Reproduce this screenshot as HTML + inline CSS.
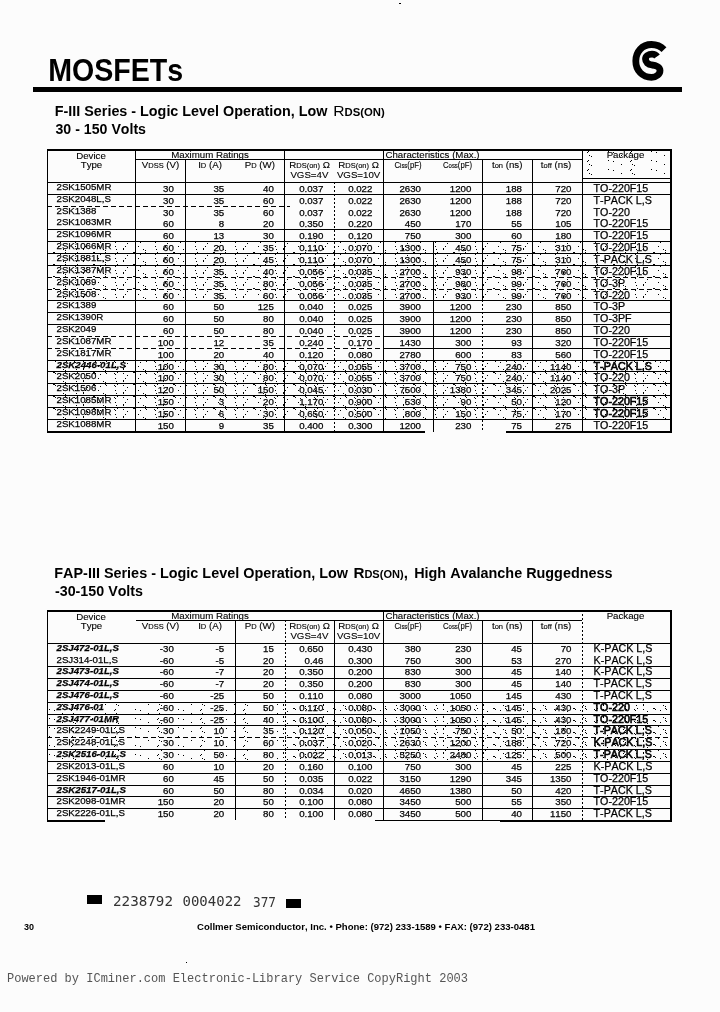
<!DOCTYPE html>
<html><head><meta charset="utf-8"><title>MOSFETs</title>
<style>
html,body{margin:0;padding:0;background:#fcfcfc;}
body{width:720px;height:1012px;overflow:hidden;}
svg{display:block;}
text{font-kerning:none;}
.tb text{stroke:#000;stroke-width:0.25px;}
.th text{stroke:#000;stroke-width:0.12px;}
</style></head>
<body>
<svg width="720" height="1012" viewBox="0 0 720 1012" font-family="'Liberation Sans', Arial, Helvetica, sans-serif" font-size="9.7" fill="#000">
<defs><pattern id="dots" x="0" y="0" width="40" height="12" patternUnits="userSpaceOnUse" fill="#000"><rect x="3" y="1" width="1" height="1"/><rect x="3" y="8" width="1" height="1"/><rect x="3" y="9" width="1" height="1"/><rect x="5" y="6" width="1" height="1"/><rect x="7" y="3" width="1" height="1"/><rect x="13" y="0" width="1" height="1"/><rect x="14" y="0" width="1" height="1"/><rect x="15" y="1" width="1" height="1"/><rect x="18" y="6" width="1" height="1"/><rect x="20" y="2" width="1" height="1"/><rect x="23" y="9" width="1" height="1"/><rect x="25" y="0" width="1" height="1"/><rect x="25" y="10" width="1" height="1"/><rect x="26" y="1" width="1" height="1"/><rect x="34" y="1" width="1" height="1"/><rect x="35" y="2" width="1" height="1"/><rect x="35" y="6" width="1" height="1"/><rect x="36" y="9" width="1" height="1"/><rect x="37" y="0" width="1" height="1"/></pattern><pattern id="dots2" x="0" y="0" width="43" height="9" patternUnits="userSpaceOnUse" fill="#000"><rect x="6" y="7" width="1" height="1"/><rect x="11" y="8" width="1" height="1"/><rect x="19" y="2" width="1" height="1"/><rect x="28" y="8" width="1" height="1"/><rect x="29" y="7" width="1" height="1"/><rect x="30" y="2" width="1" height="1"/><rect x="32" y="3" width="1" height="1"/></pattern></defs>
<text x="48.20" y="81.00" font-size="30.5" font-weight="bold" textLength="135" lengthAdjust="spacingAndGlyphs">MOSFETs</text>
<rect x="33" y="87" width="649" height="5" fill="#000" />
<path d="M664 49.6 C660 45.5 656 44.5 651.5 44.5 C642 44.5 635.8 52 635.8 61 C635.8 70.5 642.5 77.4 651.5 77.4 C656.5 77.4 660 74 660 70.5 C660 67 656 65.3 652 65 C648 64.5 645.5 62 645.5 59 C645.5 56 648.5 54.2 652 54.2 C654 54.2 656 55 657 56.5" fill="none" stroke="#000" stroke-width="6.8"/>
<text x="54.8" y="115.5" font-size="14" font-weight="bold" textLength="272.6" lengthAdjust="spacingAndGlyphs">F-III Series - Logic Level Operation, Low</text>
<text x="333.2" y="115.5" font-size="14.5" textLength="51.5" lengthAdjust="spacingAndGlyphs">R<tspan font-size="10.5" font-weight="bold">DS(ON)</tspan></text>
<text x="55.50" y="134.30" font-size="14" font-weight="bold" textLength="90.5" lengthAdjust="spacingAndGlyphs">30 - 150 Volts</text>
<rect x="48" y="242" width="622" height="11" fill="url(#dots)"/>
<rect x="48" y="254" width="622" height="11" fill="url(#dots)"/>
<rect x="48" y="266" width="622" height="11" fill="url(#dots)"/>
<rect x="48" y="278" width="622" height="11" fill="url(#dots)"/>
<rect x="48" y="290" width="622" height="10" fill="url(#dots)"/>
<rect x="48" y="361" width="622" height="10" fill="url(#dots)"/>
<rect x="48" y="372" width="622" height="11" fill="url(#dots)"/>
<rect x="48" y="384" width="622" height="11" fill="url(#dots)"/>
<rect x="48" y="396" width="622" height="11" fill="url(#dots)"/>
<rect x="48" y="408" width="622" height="11" fill="url(#dots)"/>
<rect x="47" y="149" width="625" height="2" fill="#000" />
<rect x="47" y="149" width="1" height="283" fill="#000" />
<rect x="670" y="149" width="2" height="284" fill="#000" />
<rect x="47" y="431" width="378" height="2" fill="#000" />
<rect x="506" y="431" width="166" height="2" fill="#000" />
<rect x="135" y="159" width="447" height="1" fill="#000" />
<rect x="47" y="182" width="623" height="1" fill="#000" />
<rect x="135" y="149" width="1" height="283" fill="#000" />
<rect x="185" y="159" width="1" height="273" fill="#000" />
<rect x="284" y="149" width="1" height="283" fill="#000" />
<line x1="334.5" y1="182" x2="334.5" y2="432" stroke="#000" stroke-width="1" stroke-dasharray="2 2"/>
<rect x="383" y="149" width="1" height="283" fill="#000" />
<rect x="433" y="241" width="1" height="191" fill="#000" />
<rect x="482" y="159" width="1" height="141" fill="#000" />
<line x1="482.5" y1="300" x2="482.5" y2="432" stroke="#000" stroke-width="1" stroke-dasharray="2 2"/>
<rect x="532" y="159" width="1" height="273" fill="#000" />
<rect x="582" y="149" width="1" height="283" fill="#000" />
<rect x="47" y="194" width="623" height="1" fill="#000" />
<line x1="47" y1="206.5" x2="290" y2="206.5" stroke="#000" stroke-width="1" stroke-dasharray="5 3"/>
<rect x="47" y="229" width="623" height="1" fill="#000" />
<rect x="47" y="241" width="623" height="1" fill="#000" />
<rect x="47" y="253" width="623" height="1" fill="#000" />
<rect x="47" y="265" width="623" height="1" fill="#000" />
<line x1="47" y1="277.5" x2="670" y2="277.5" stroke="#000" stroke-width="1" stroke-dasharray="5 3"/>
<line x1="47" y1="289.5" x2="670" y2="289.5" stroke="#000" stroke-width="1" stroke-dasharray="5 3"/>
<rect x="47" y="300" width="623" height="1" fill="#000" />
<rect x="47" y="312" width="623" height="1" fill="#000" />
<rect x="47" y="324" width="623" height="1" fill="#000" />
<line x1="47" y1="336.5" x2="383" y2="336.5" stroke="#000" stroke-width="1" stroke-dasharray="5 3"/>
<rect x="383" y="336" width="287" height="1" fill="#000" />
<line x1="47" y1="348.5" x2="383" y2="348.5" stroke="#000" stroke-width="1" stroke-dasharray="5 3"/>
<rect x="383" y="348" width="287" height="1" fill="#000" />
<rect x="47" y="360" width="623" height="1" fill="#000" />
<rect x="47" y="371" width="623" height="1" fill="#000" />
<rect x="47" y="383" width="623" height="1" fill="#000" />
<rect x="47" y="395" width="623" height="1" fill="#000" />
<rect x="47" y="407" width="623" height="1" fill="#000" />
<rect x="47" y="419" width="623" height="1" fill="#000" />
<g class="th">
<text x="91.00" y="158.50" text-anchor="middle">Device</text>
<text x="91.50" y="167.50" text-anchor="middle">Type</text>
<text x="210.00" y="157.50" text-anchor="middle">Maximum Ratings</text>
<text x="160.5" y="168.20" text-anchor="middle">V<tspan font-size="7.5">DSS</tspan> (V)</text>
<text x="210" y="168.20" text-anchor="middle">I<tspan font-size="7.5">D</tspan> (A)</text>
<text x="259.8" y="168.20" text-anchor="middle">P<tspan font-size="7.5">D</tspan> (W)</text>
<text x="309.6" y="168.20" text-anchor="middle">R<tspan font-size="7.5">DS(on)</tspan> Ω</text>
<text x="358.6" y="168.20" text-anchor="middle">R<tspan font-size="7.5">DS(on)</tspan> Ω</text>
<text x="309.40" y="177.90" text-anchor="middle">VGS=4V</text>
<text x="358.60" y="177.90" text-anchor="middle">VGS=10V</text>
<text x="432.50" y="157.50" text-anchor="middle">Characteristics (Max.)</text>
<text x="408" y="168.20" text-anchor="middle" textLength="27" lengthAdjust="spacingAndGlyphs">C<tspan font-size="7.5">iss</tspan>(pF)</text>
<text x="457.5" y="168.20" text-anchor="middle" textLength="29" lengthAdjust="spacingAndGlyphs">C<tspan font-size="7.5">oss</tspan>(pF)</text>
<text x="507.2" y="168.20" text-anchor="middle">t<tspan font-size="7.5">on</tspan> (ns)</text>
<text x="556" y="168.20" text-anchor="middle">t<tspan font-size="7.5">off</tspan> (ns)</text>
<text x="625.50" y="158.00" text-anchor="middle">Package</text>
</g>
<rect x="583" y="151" width="86" height="27" fill="url(#dots2)"/>
<rect x="583" y="178" width="87" height="1" fill="#000" />
<g class="tb">
<text x="56.50" y="190.40">2SK1505MR</text>
<text x="173.80" y="191.70" text-anchor="end">30</text>
<text x="224.20" y="191.70" text-anchor="end">35</text>
<text x="273.80" y="191.70" text-anchor="end">40</text>
<text x="323.40" y="191.70" text-anchor="end">0.037</text>
<text x="372.40" y="191.70" text-anchor="end">0.022</text>
<text x="421.00" y="191.70" text-anchor="end">2630</text>
<text x="471.40" y="191.70" text-anchor="end">1200</text>
<text x="522.00" y="191.70" text-anchor="end">188</text>
<text x="571.50" y="191.70" text-anchor="end">720</text>
<text x="593.60" y="191.50" font-size="10.7">TO-220F15</text>
<text x="56.50" y="202.40">2SK2048L,S</text>
<text x="173.80" y="203.70" text-anchor="end">30</text>
<text x="224.20" y="203.70" text-anchor="end">35</text>
<text x="273.80" y="203.70" text-anchor="end">60</text>
<text x="323.40" y="203.70" text-anchor="end">0.037</text>
<text x="372.40" y="203.70" text-anchor="end">0.022</text>
<text x="421.00" y="203.70" text-anchor="end">2630</text>
<text x="471.40" y="203.70" text-anchor="end">1200</text>
<text x="522.00" y="203.70" text-anchor="end">188</text>
<text x="571.50" y="203.70" text-anchor="end">720</text>
<text x="593.60" y="203.50" font-size="10.7">T-PACK L,S</text>
<text x="56.50" y="214.40">2SK1388</text>
<text x="173.80" y="215.70" text-anchor="end">30</text>
<text x="224.20" y="215.70" text-anchor="end">35</text>
<text x="273.80" y="215.70" text-anchor="end">60</text>
<text x="323.40" y="215.70" text-anchor="end">0.037</text>
<text x="372.40" y="215.70" text-anchor="end">0.022</text>
<text x="421.00" y="215.70" text-anchor="end">2630</text>
<text x="471.40" y="215.70" text-anchor="end">1200</text>
<text x="522.00" y="215.70" text-anchor="end">188</text>
<text x="571.50" y="215.70" text-anchor="end">720</text>
<text x="593.60" y="215.50" font-size="10.7">TO-220</text>
<text x="56.50" y="225.40">2SK1083MR</text>
<text x="173.80" y="226.70" text-anchor="end">60</text>
<text x="224.20" y="226.70" text-anchor="end">8</text>
<text x="273.80" y="226.70" text-anchor="end">20</text>
<text x="323.40" y="226.70" text-anchor="end">0.350</text>
<text x="372.40" y="226.70" text-anchor="end">0.220</text>
<text x="421.00" y="226.70" text-anchor="end">450</text>
<text x="471.40" y="226.70" text-anchor="end">170</text>
<text x="522.00" y="226.70" text-anchor="end">55</text>
<text x="571.50" y="226.70" text-anchor="end">105</text>
<text x="593.60" y="226.50" font-size="10.7">TO-220F15</text>
<text x="56.50" y="237.40">2SK1096MR</text>
<text x="173.80" y="238.70" text-anchor="end">60</text>
<text x="224.20" y="238.70" text-anchor="end">13</text>
<text x="273.80" y="238.70" text-anchor="end">30</text>
<text x="323.40" y="238.70" text-anchor="end">0.190</text>
<text x="372.40" y="238.70" text-anchor="end">0.120</text>
<text x="421.00" y="238.70" text-anchor="end">750</text>
<text x="471.40" y="238.70" text-anchor="end">300</text>
<text x="522.00" y="238.70" text-anchor="end">60</text>
<text x="571.50" y="238.70" text-anchor="end">180</text>
<text x="593.60" y="238.50" font-size="10.7">TO-220F15</text>
<text x="56.50" y="249.40">2SK1066MR</text>
<text x="173.80" y="250.70" text-anchor="end">60</text>
<text x="224.20" y="250.70" text-anchor="end">20</text>
<text x="273.80" y="250.70" text-anchor="end">35</text>
<text x="323.40" y="250.70" text-anchor="end">0.110</text>
<text x="372.40" y="250.70" text-anchor="end">0.070</text>
<text x="421.00" y="250.70" text-anchor="end">1300</text>
<text x="471.40" y="250.70" text-anchor="end">450</text>
<text x="522.00" y="250.70" text-anchor="end">75</text>
<text x="571.50" y="250.70" text-anchor="end">310</text>
<text x="593.60" y="250.50" font-size="10.7">TO-220F15</text>
<text x="56.50" y="261.40">2SK1881L,S</text>
<text x="173.80" y="262.70" text-anchor="end">60</text>
<text x="224.20" y="262.70" text-anchor="end">20</text>
<text x="273.80" y="262.70" text-anchor="end">45</text>
<text x="323.40" y="262.70" text-anchor="end">0.110</text>
<text x="372.40" y="262.70" text-anchor="end">0.070</text>
<text x="421.00" y="262.70" text-anchor="end">1300</text>
<text x="471.40" y="262.70" text-anchor="end">450</text>
<text x="522.00" y="262.70" text-anchor="end">75</text>
<text x="571.50" y="262.70" text-anchor="end">310</text>
<text x="593.60" y="262.50" font-size="10.7">T-PACK L,S</text>
<text x="56.50" y="273.40">2SK1387MR</text>
<text x="173.80" y="274.70" text-anchor="end">60</text>
<text x="224.20" y="274.70" text-anchor="end">35</text>
<text x="273.80" y="274.70" text-anchor="end">40</text>
<text x="323.40" y="274.70" text-anchor="end">0.056</text>
<text x="372.40" y="274.70" text-anchor="end">0.035</text>
<text x="421.00" y="274.70" text-anchor="end">2700</text>
<text x="471.40" y="274.70" text-anchor="end">930</text>
<text x="522.00" y="274.70" text-anchor="end">98</text>
<text x="571.50" y="274.70" text-anchor="end">760</text>
<text x="593.60" y="274.50" font-size="10.7">TO-220F15</text>
<text x="56.50" y="285.40">2SK1089</text>
<text x="173.80" y="286.70" text-anchor="end">60</text>
<text x="224.20" y="286.70" text-anchor="end">35</text>
<text x="273.80" y="286.70" text-anchor="end">80</text>
<text x="323.40" y="286.70" text-anchor="end">0.056</text>
<text x="372.40" y="286.70" text-anchor="end">0.035</text>
<text x="421.00" y="286.70" text-anchor="end">2700</text>
<text x="471.40" y="286.70" text-anchor="end">980</text>
<text x="522.00" y="286.70" text-anchor="end">99</text>
<text x="571.50" y="286.70" text-anchor="end">760</text>
<text x="593.60" y="286.50" font-size="10.7">TO-3P</text>
<text x="56.50" y="297.40">2SK1508</text>
<text x="173.80" y="298.70" text-anchor="end">60</text>
<text x="224.20" y="298.70" text-anchor="end">35</text>
<text x="273.80" y="298.70" text-anchor="end">60</text>
<text x="323.40" y="298.70" text-anchor="end">0.056</text>
<text x="372.40" y="298.70" text-anchor="end">0.035</text>
<text x="421.00" y="298.70" text-anchor="end">2700</text>
<text x="471.40" y="298.70" text-anchor="end">930</text>
<text x="522.00" y="298.70" text-anchor="end">99</text>
<text x="571.50" y="298.70" text-anchor="end">760</text>
<text x="593.60" y="298.50" font-size="10.7">TO-220</text>
<text x="56.50" y="308.40">2SK1389</text>
<text x="173.80" y="309.70" text-anchor="end">60</text>
<text x="224.20" y="309.70" text-anchor="end">50</text>
<text x="273.80" y="309.70" text-anchor="end">125</text>
<text x="323.40" y="309.70" text-anchor="end">0.040</text>
<text x="372.40" y="309.70" text-anchor="end">0.025</text>
<text x="421.00" y="309.70" text-anchor="end">3900</text>
<text x="471.40" y="309.70" text-anchor="end">1200</text>
<text x="522.00" y="309.70" text-anchor="end">230</text>
<text x="571.50" y="309.70" text-anchor="end">850</text>
<text x="593.60" y="309.50" font-size="10.7">TO-3P</text>
<text x="56.50" y="320.40">2SK1390R</text>
<text x="173.80" y="321.70" text-anchor="end">60</text>
<text x="224.20" y="321.70" text-anchor="end">50</text>
<text x="273.80" y="321.70" text-anchor="end">80</text>
<text x="323.40" y="321.70" text-anchor="end">0.040</text>
<text x="372.40" y="321.70" text-anchor="end">0.025</text>
<text x="421.00" y="321.70" text-anchor="end">3900</text>
<text x="471.40" y="321.70" text-anchor="end">1200</text>
<text x="522.00" y="321.70" text-anchor="end">230</text>
<text x="571.50" y="321.70" text-anchor="end">850</text>
<text x="593.60" y="321.50" font-size="10.7">TO-3PF</text>
<text x="56.50" y="332.40">2SK2049</text>
<text x="173.80" y="333.70" text-anchor="end">60</text>
<text x="224.20" y="333.70" text-anchor="end">50</text>
<text x="273.80" y="333.70" text-anchor="end">80</text>
<text x="323.40" y="333.70" text-anchor="end">0.040</text>
<text x="372.40" y="333.70" text-anchor="end">0.025</text>
<text x="421.00" y="333.70" text-anchor="end">3900</text>
<text x="471.40" y="333.70" text-anchor="end">1200</text>
<text x="522.00" y="333.70" text-anchor="end">230</text>
<text x="571.50" y="333.70" text-anchor="end">850</text>
<text x="593.60" y="333.50" font-size="10.7">TO-220</text>
<text x="56.50" y="344.40">2SK1087MR</text>
<text x="173.80" y="345.70" text-anchor="end">100</text>
<text x="224.20" y="345.70" text-anchor="end">12</text>
<text x="273.80" y="345.70" text-anchor="end">35</text>
<text x="323.40" y="345.70" text-anchor="end">0.240</text>
<text x="372.40" y="345.70" text-anchor="end">0.170</text>
<text x="421.00" y="345.70" text-anchor="end">1430</text>
<text x="471.40" y="345.70" text-anchor="end">300</text>
<text x="522.00" y="345.70" text-anchor="end">93</text>
<text x="571.50" y="345.70" text-anchor="end">320</text>
<text x="593.60" y="345.50" font-size="10.7">TO-220F15</text>
<text x="56.50" y="356.40">2SK1817MR</text>
<text x="173.80" y="357.70" text-anchor="end">100</text>
<text x="224.20" y="357.70" text-anchor="end">20</text>
<text x="273.80" y="357.70" text-anchor="end">40</text>
<text x="323.40" y="357.70" text-anchor="end">0.120</text>
<text x="372.40" y="357.70" text-anchor="end">0.080</text>
<text x="421.00" y="357.70" text-anchor="end">2780</text>
<text x="471.40" y="357.70" text-anchor="end">600</text>
<text x="522.00" y="357.70" text-anchor="end">83</text>
<text x="571.50" y="357.70" text-anchor="end">560</text>
<text x="593.60" y="357.50" font-size="10.7">TO-220F15</text>
<text x="56.50" y="368.40" font-weight="bold" font-style="italic">2SK2446-01L,S</text>
<text x="173.80" y="369.70" text-anchor="end">100</text>
<text x="224.20" y="369.70" text-anchor="end">30</text>
<text x="273.80" y="369.70" text-anchor="end">80</text>
<text x="323.40" y="369.70" text-anchor="end">0.070</text>
<text x="372.40" y="369.70" text-anchor="end">0.055</text>
<text x="421.00" y="369.70" text-anchor="end">3700</text>
<text x="471.40" y="369.70" text-anchor="end">750</text>
<text x="522.00" y="369.70" text-anchor="end">240</text>
<text x="571.50" y="369.70" text-anchor="end">1140</text>
<text x="593.60" y="369.50" font-size="10.7" style="stroke-width:0.6px">T-PACK L,S</text>
<text x="56.50" y="379.40">2SK2050</text>
<text x="173.80" y="380.70" text-anchor="end">100</text>
<text x="224.20" y="380.70" text-anchor="end">30</text>
<text x="273.80" y="380.70" text-anchor="end">80</text>
<text x="323.40" y="380.70" text-anchor="end">0.070</text>
<text x="372.40" y="380.70" text-anchor="end">0.055</text>
<text x="421.00" y="380.70" text-anchor="end">3700</text>
<text x="471.40" y="380.70" text-anchor="end">750</text>
<text x="522.00" y="380.70" text-anchor="end">240</text>
<text x="571.50" y="380.70" text-anchor="end">1140</text>
<text x="593.60" y="380.50" font-size="10.7">TO-220</text>
<text x="56.50" y="391.40">2SK1506</text>
<text x="173.80" y="392.70" text-anchor="end">120</text>
<text x="224.20" y="392.70" text-anchor="end">50</text>
<text x="273.80" y="392.70" text-anchor="end">150</text>
<text x="323.40" y="392.70" text-anchor="end">0.045</text>
<text x="372.40" y="392.70" text-anchor="end">0.030</text>
<text x="421.00" y="392.70" text-anchor="end">7500</text>
<text x="471.40" y="392.70" text-anchor="end">1380</text>
<text x="522.00" y="392.70" text-anchor="end">345</text>
<text x="571.50" y="392.70" text-anchor="end">2025</text>
<text x="593.60" y="392.50" font-size="10.7">TO-3P</text>
<text x="56.50" y="403.40">2SK1085MR</text>
<text x="173.80" y="404.70" text-anchor="end">150</text>
<text x="224.20" y="404.70" text-anchor="end">3</text>
<text x="273.80" y="404.70" text-anchor="end">20</text>
<text x="323.40" y="404.70" text-anchor="end">1.170</text>
<text x="372.40" y="404.70" text-anchor="end">0.900</text>
<text x="421.00" y="404.70" text-anchor="end">530</text>
<text x="471.40" y="404.70" text-anchor="end">90</text>
<text x="522.00" y="404.70" text-anchor="end">50</text>
<text x="571.50" y="404.70" text-anchor="end">120</text>
<text x="593.60" y="404.50" font-size="10.7" style="stroke-width:0.6px">TO-220F15</text>
<text x="56.50" y="415.40">2SK1098MR</text>
<text x="173.80" y="416.70" text-anchor="end">150</text>
<text x="224.20" y="416.70" text-anchor="end">6</text>
<text x="273.80" y="416.70" text-anchor="end">30</text>
<text x="323.40" y="416.70" text-anchor="end">0.650</text>
<text x="372.40" y="416.70" text-anchor="end">0.500</text>
<text x="421.00" y="416.70" text-anchor="end">800</text>
<text x="471.40" y="416.70" text-anchor="end">150</text>
<text x="522.00" y="416.70" text-anchor="end">75</text>
<text x="571.50" y="416.70" text-anchor="end">170</text>
<text x="593.60" y="416.50" font-size="10.7" style="stroke-width:0.6px">TO-220F15</text>
<text x="56.50" y="427.40">2SK1088MR</text>
<text x="173.80" y="428.70" text-anchor="end">150</text>
<text x="224.20" y="428.70" text-anchor="end">9</text>
<text x="273.80" y="428.70" text-anchor="end">35</text>
<text x="323.40" y="428.70" text-anchor="end">0.400</text>
<text x="372.40" y="428.70" text-anchor="end">0.300</text>
<text x="421.00" y="428.70" text-anchor="end">1200</text>
<text x="471.40" y="428.70" text-anchor="end">230</text>
<text x="522.00" y="428.70" text-anchor="end">75</text>
<text x="571.50" y="428.70" text-anchor="end">275</text>
<text x="593.60" y="428.50" font-size="10.7">TO-220F15</text>
</g>
<text x="54.3" y="578" font-size="14" font-weight="bold" textLength="293.7" lengthAdjust="spacingAndGlyphs">FAP-III Series - Logic Level Operation, Low</text>
<text x="353.4" y="578" font-size="14.5" font-weight="bold" textLength="54.5" lengthAdjust="spacingAndGlyphs">R<tspan font-size="10.5">DS(ON)</tspan>,</text>
<text x="414.2" y="578" font-size="14" font-weight="bold" textLength="198.3" lengthAdjust="spacingAndGlyphs">High Avalanche Ruggedness</text>
<text x="55.00" y="595.80" font-size="14" font-weight="bold" textLength="88" lengthAdjust="spacingAndGlyphs">-30-150 Volts</text>
<rect x="283" y="703" width="387" height="11" fill="url(#dots)"/>
<rect x="283" y="715" width="387" height="10" fill="url(#dots)"/>
<rect x="283" y="726" width="387" height="11" fill="url(#dots)"/>
<rect x="283" y="738" width="387" height="11" fill="url(#dots)"/>
<rect x="283" y="750" width="387" height="11" fill="url(#dots)"/>
<rect x="48" y="703" width="235" height="11" fill="url(#dots2)"/>
<rect x="48" y="715" width="235" height="10" fill="url(#dots2)"/>
<rect x="48" y="726" width="235" height="11" fill="url(#dots2)"/>
<rect x="48" y="738" width="235" height="11" fill="url(#dots2)"/>
<rect x="48" y="750" width="235" height="11" fill="url(#dots2)"/>
<rect x="47" y="610" width="625" height="2" fill="#000" />
<rect x="47" y="610" width="1" height="211" fill="#000" />
<rect x="670" y="610" width="2" height="212" fill="#000" />
<rect x="47" y="820" width="58" height="2" fill="#000" />
<rect x="375" y="820" width="125" height="1" fill="#000" />
<rect x="500" y="820" width="172" height="2" fill="#000" />
<rect x="136" y="620" width="446" height="1" fill="#000" />
<rect x="47" y="643" width="623" height="1" fill="#000" />
<rect x="235" y="620" width="1" height="200" fill="#000" />
<line x1="285.5" y1="620" x2="285.5" y2="820" stroke="#000" stroke-width="1" stroke-dasharray="2 2"/>
<rect x="334" y="620" width="1" height="200" fill="#000" />
<rect x="383" y="610" width="1" height="210" fill="#000" />
<rect x="482" y="620" width="1" height="200" fill="#000" />
<rect x="532" y="620" width="1" height="200" fill="#000" />
<line x1="582.5" y1="610" x2="582.5" y2="820" stroke="#000" stroke-width="1" stroke-dasharray="2 2"/>
<rect x="47" y="666" width="623" height="1" fill="#000" />
<rect x="47" y="678" width="623" height="1" fill="#000" />
<rect x="47" y="690" width="623" height="1" fill="#000" />
<rect x="47" y="702" width="623" height="1" fill="#000" />
<rect x="47" y="714" width="623" height="1" fill="#000" />
<rect x="47" y="725" width="623" height="1" fill="#000" />
<line x1="47" y1="737.5" x2="670" y2="737.5" stroke="#000" stroke-width="1" stroke-dasharray="5 3"/>
<rect x="47" y="749" width="623" height="1" fill="#000" />
<rect x="47" y="761" width="623" height="1" fill="#000" />
<rect x="47" y="773" width="623" height="1" fill="#000" />
<rect x="47" y="785" width="623" height="1" fill="#000" />
<rect x="47" y="796" width="623" height="1" fill="#000" />
<rect x="47" y="808" width="623" height="1" fill="#000" />
<g class="th">
<text x="91.00" y="619.50" text-anchor="middle">Device</text>
<text x="91.50" y="628.50" text-anchor="middle">Type</text>
<text x="210.00" y="618.50" text-anchor="middle">Maximum Ratings</text>
<text x="160.5" y="629.20" text-anchor="middle">V<tspan font-size="7.5">DSS</tspan> (V)</text>
<text x="210" y="629.20" text-anchor="middle">I<tspan font-size="7.5">D</tspan> (A)</text>
<text x="259.8" y="629.20" text-anchor="middle">P<tspan font-size="7.5">D</tspan> (W)</text>
<text x="309.6" y="629.20" text-anchor="middle">R<tspan font-size="7.5">DS(on)</tspan> Ω</text>
<text x="358.6" y="629.20" text-anchor="middle">R<tspan font-size="7.5">DS(on)</tspan> Ω</text>
<text x="309.40" y="638.90" text-anchor="middle">VGS=4V</text>
<text x="358.60" y="638.90" text-anchor="middle">VGS=10V</text>
<text x="432.50" y="618.50" text-anchor="middle">Characteristics (Max.)</text>
<text x="408" y="629.20" text-anchor="middle" textLength="27" lengthAdjust="spacingAndGlyphs">C<tspan font-size="7.5">iss</tspan>(pF)</text>
<text x="457.5" y="629.20" text-anchor="middle" textLength="29" lengthAdjust="spacingAndGlyphs">C<tspan font-size="7.5">oss</tspan>(pF)</text>
<text x="507.2" y="629.20" text-anchor="middle">t<tspan font-size="7.5">on</tspan> (ns)</text>
<text x="556" y="629.20" text-anchor="middle">t<tspan font-size="7.5">off</tspan> (ns)</text>
<text x="625.50" y="619.00" text-anchor="middle">Package</text>
</g>
<g class="tb">
<text x="56.50" y="650.90" font-weight="bold" font-style="italic">2SJ472-01L,S</text>
<text x="173.80" y="652.10" text-anchor="end">-30</text>
<text x="224.20" y="652.10" text-anchor="end">-5</text>
<text x="273.80" y="652.10" text-anchor="end">15</text>
<text x="323.40" y="652.10" text-anchor="end">0.650</text>
<text x="372.40" y="652.10" text-anchor="end">0.430</text>
<text x="421.00" y="652.10" text-anchor="end">380</text>
<text x="471.40" y="652.10" text-anchor="end">230</text>
<text x="522.00" y="652.10" text-anchor="end">45</text>
<text x="571.50" y="652.10" text-anchor="end">70</text>
<text x="593.60" y="651.90" font-size="10.7">K-PACK L,S</text>
<text x="56.50" y="662.90">2SJ314-01L,S</text>
<text x="173.80" y="664.10" text-anchor="end">-60</text>
<text x="224.20" y="664.10" text-anchor="end">-5</text>
<text x="273.80" y="664.10" text-anchor="end">20</text>
<text x="323.40" y="664.10" text-anchor="end">0.46</text>
<text x="372.40" y="664.10" text-anchor="end">0.300</text>
<text x="421.00" y="664.10" text-anchor="end">750</text>
<text x="471.40" y="664.10" text-anchor="end">300</text>
<text x="522.00" y="664.10" text-anchor="end">53</text>
<text x="571.50" y="664.10" text-anchor="end">270</text>
<text x="593.60" y="663.90" font-size="10.7">K-PACK L,S</text>
<text x="56.50" y="673.90" font-weight="bold" font-style="italic">2SJ473-01L,S</text>
<text x="173.80" y="675.10" text-anchor="end">-60</text>
<text x="224.20" y="675.10" text-anchor="end">-7</text>
<text x="273.80" y="675.10" text-anchor="end">20</text>
<text x="323.40" y="675.10" text-anchor="end">0.350</text>
<text x="372.40" y="675.10" text-anchor="end">0.200</text>
<text x="421.00" y="675.10" text-anchor="end">830</text>
<text x="471.40" y="675.10" text-anchor="end">300</text>
<text x="522.00" y="675.10" text-anchor="end">45</text>
<text x="571.50" y="675.10" text-anchor="end">140</text>
<text x="593.60" y="674.90" font-size="10.7">K-PACK L,S</text>
<text x="56.50" y="685.90" font-weight="bold" font-style="italic">2SJ474-01L,S</text>
<text x="173.80" y="687.10" text-anchor="end">-60</text>
<text x="224.20" y="687.10" text-anchor="end">-7</text>
<text x="273.80" y="687.10" text-anchor="end">20</text>
<text x="323.40" y="687.10" text-anchor="end">0.350</text>
<text x="372.40" y="687.10" text-anchor="end">0.200</text>
<text x="421.00" y="687.10" text-anchor="end">830</text>
<text x="471.40" y="687.10" text-anchor="end">300</text>
<text x="522.00" y="687.10" text-anchor="end">45</text>
<text x="571.50" y="687.10" text-anchor="end">140</text>
<text x="593.60" y="686.90" font-size="10.7">T-PACK L,S</text>
<text x="56.50" y="697.90" font-weight="bold" font-style="italic">2SJ476-01L,S</text>
<text x="173.80" y="699.10" text-anchor="end">-60</text>
<text x="224.20" y="699.10" text-anchor="end">-25</text>
<text x="273.80" y="699.10" text-anchor="end">50</text>
<text x="323.40" y="699.10" text-anchor="end">0.110</text>
<text x="372.40" y="699.10" text-anchor="end">0.080</text>
<text x="421.00" y="699.10" text-anchor="end">3000</text>
<text x="471.40" y="699.10" text-anchor="end">1050</text>
<text x="522.00" y="699.10" text-anchor="end">145</text>
<text x="571.50" y="699.10" text-anchor="end">430</text>
<text x="593.60" y="698.90" font-size="10.7">T-PACK L,S</text>
<text x="56.50" y="709.90" font-weight="bold" font-style="italic">2SJ476-01</text>
<text x="173.80" y="711.10" text-anchor="end">-60</text>
<text x="224.20" y="711.10" text-anchor="end">-25</text>
<text x="273.80" y="711.10" text-anchor="end">50</text>
<text x="323.40" y="711.10" text-anchor="end">0.110</text>
<text x="372.40" y="711.10" text-anchor="end">0.080</text>
<text x="421.00" y="711.10" text-anchor="end">3000</text>
<text x="471.40" y="711.10" text-anchor="end">1050</text>
<text x="522.00" y="711.10" text-anchor="end">145</text>
<text x="571.50" y="711.10" text-anchor="end">430</text>
<text x="593.60" y="710.90" font-size="10.7" style="stroke-width:0.6px">TO-220</text>
<text x="56.50" y="721.90" font-weight="bold" font-style="italic">2SJ477-01MR</text>
<text x="173.80" y="723.10" text-anchor="end">-60</text>
<text x="224.20" y="723.10" text-anchor="end">-25</text>
<text x="273.80" y="723.10" text-anchor="end">40</text>
<text x="323.40" y="723.10" text-anchor="end">0.100</text>
<text x="372.40" y="723.10" text-anchor="end">0.080</text>
<text x="421.00" y="723.10" text-anchor="end">3000</text>
<text x="471.40" y="723.10" text-anchor="end">1050</text>
<text x="522.00" y="723.10" text-anchor="end">145</text>
<text x="571.50" y="723.10" text-anchor="end">430</text>
<text x="593.60" y="722.90" font-size="10.7" style="stroke-width:0.6px">TO-220F15</text>
<text x="56.50" y="732.90">2SK2249-01L,S</text>
<text x="173.80" y="734.10" text-anchor="end">30</text>
<text x="224.20" y="734.10" text-anchor="end">10</text>
<text x="273.80" y="734.10" text-anchor="end">35</text>
<text x="323.40" y="734.10" text-anchor="end">0.120</text>
<text x="372.40" y="734.10" text-anchor="end">0.050</text>
<text x="421.00" y="734.10" text-anchor="end">1050</text>
<text x="471.40" y="734.10" text-anchor="end">750</text>
<text x="522.00" y="734.10" text-anchor="end">50</text>
<text x="571.50" y="734.10" text-anchor="end">180</text>
<text x="593.60" y="733.90" font-size="10.7" style="stroke-width:0.6px">T-PACK L,S</text>
<text x="56.50" y="744.90">2SK2248-01L,S</text>
<text x="173.80" y="746.10" text-anchor="end">30</text>
<text x="224.20" y="746.10" text-anchor="end">10</text>
<text x="273.80" y="746.10" text-anchor="end">60</text>
<text x="323.40" y="746.10" text-anchor="end">0.037</text>
<text x="372.40" y="746.10" text-anchor="end">0.020</text>
<text x="421.00" y="746.10" text-anchor="end">2630</text>
<text x="471.40" y="746.10" text-anchor="end">1200</text>
<text x="522.00" y="746.10" text-anchor="end">188</text>
<text x="571.50" y="746.10" text-anchor="end">720</text>
<text x="593.60" y="745.90" font-size="10.7" style="stroke-width:0.6px">K-PACK L,S</text>
<text x="56.50" y="756.90" font-weight="bold" font-style="italic">2SK2516-01L,S</text>
<text x="173.80" y="758.10" text-anchor="end">30</text>
<text x="224.20" y="758.10" text-anchor="end">50</text>
<text x="273.80" y="758.10" text-anchor="end">80</text>
<text x="323.40" y="758.10" text-anchor="end">0.022</text>
<text x="372.40" y="758.10" text-anchor="end">0.013</text>
<text x="421.00" y="758.10" text-anchor="end">5250</text>
<text x="471.40" y="758.10" text-anchor="end">2480</text>
<text x="522.00" y="758.10" text-anchor="end">125</text>
<text x="571.50" y="758.10" text-anchor="end">500</text>
<text x="593.60" y="757.90" font-size="10.7" style="stroke-width:0.6px">T-PACK L,S</text>
<text x="56.50" y="768.90">2SK2013-01L,S</text>
<text x="173.80" y="770.10" text-anchor="end">60</text>
<text x="224.20" y="770.10" text-anchor="end">10</text>
<text x="273.80" y="770.10" text-anchor="end">20</text>
<text x="323.40" y="770.10" text-anchor="end">0.160</text>
<text x="372.40" y="770.10" text-anchor="end">0.100</text>
<text x="421.00" y="770.10" text-anchor="end">750</text>
<text x="471.40" y="770.10" text-anchor="end">300</text>
<text x="522.00" y="770.10" text-anchor="end">45</text>
<text x="571.50" y="770.10" text-anchor="end">225</text>
<text x="593.60" y="769.90" font-size="10.7">K-PACK L,S</text>
<text x="56.50" y="780.90">2SK1946-01MR</text>
<text x="173.80" y="782.10" text-anchor="end">60</text>
<text x="224.20" y="782.10" text-anchor="end">45</text>
<text x="273.80" y="782.10" text-anchor="end">50</text>
<text x="323.40" y="782.10" text-anchor="end">0.035</text>
<text x="372.40" y="782.10" text-anchor="end">0.022</text>
<text x="421.00" y="782.10" text-anchor="end">3150</text>
<text x="471.40" y="782.10" text-anchor="end">1290</text>
<text x="522.00" y="782.10" text-anchor="end">345</text>
<text x="571.50" y="782.10" text-anchor="end">1350</text>
<text x="593.60" y="781.90" font-size="10.7">TO-220F15</text>
<text x="56.50" y="792.90" font-weight="bold" font-style="italic">2SK2517-01L,S</text>
<text x="173.80" y="794.10" text-anchor="end">60</text>
<text x="224.20" y="794.10" text-anchor="end">50</text>
<text x="273.80" y="794.10" text-anchor="end">80</text>
<text x="323.40" y="794.10" text-anchor="end">0.034</text>
<text x="372.40" y="794.10" text-anchor="end">0.020</text>
<text x="421.00" y="794.10" text-anchor="end">4650</text>
<text x="471.40" y="794.10" text-anchor="end">1380</text>
<text x="522.00" y="794.10" text-anchor="end">50</text>
<text x="571.50" y="794.10" text-anchor="end">420</text>
<text x="593.60" y="793.90" font-size="10.7">T-PACK L,S</text>
<text x="56.50" y="803.90">2SK2098-01MR</text>
<text x="173.80" y="805.10" text-anchor="end">150</text>
<text x="224.20" y="805.10" text-anchor="end">20</text>
<text x="273.80" y="805.10" text-anchor="end">50</text>
<text x="323.40" y="805.10" text-anchor="end">0.100</text>
<text x="372.40" y="805.10" text-anchor="end">0.080</text>
<text x="421.00" y="805.10" text-anchor="end">3450</text>
<text x="471.40" y="805.10" text-anchor="end">500</text>
<text x="522.00" y="805.10" text-anchor="end">55</text>
<text x="571.50" y="805.10" text-anchor="end">350</text>
<text x="593.60" y="804.90" font-size="10.7">TO-220F15</text>
<text x="56.50" y="815.90">2SK2226-01L,S</text>
<text x="173.80" y="817.10" text-anchor="end">150</text>
<text x="224.20" y="817.10" text-anchor="end">20</text>
<text x="273.80" y="817.10" text-anchor="end">80</text>
<text x="323.40" y="817.10" text-anchor="end">0.100</text>
<text x="372.40" y="817.10" text-anchor="end">0.080</text>
<text x="421.00" y="817.10" text-anchor="end">3450</text>
<text x="471.40" y="817.10" text-anchor="end">500</text>
<text x="522.00" y="817.10" text-anchor="end">40</text>
<text x="571.50" y="817.10" text-anchor="end">1150</text>
<text x="593.60" y="816.90" font-size="10.7">T-PACK L,S</text>
</g>
<rect x="399" y="3" width="2" height="1" fill="#000" />
<rect x="186" y="962" width="1" height="1" fill="#000" />
<rect x="87" y="895" width="15" height="9" fill="#000" />
<text x="113.00" y="905.50" font-size="14.5" font-family="'DejaVu Sans Mono', 'Liberation Mono', monospace" fill="#333" textLength="60" lengthAdjust="spacingAndGlyphs">2238792</text>
<text x="182.50" y="906.30" font-size="14.5" font-family="'DejaVu Sans Mono', 'Liberation Mono', monospace" fill="#333" textLength="59" lengthAdjust="spacingAndGlyphs">0004022</text>
<text x="253.00" y="907.00" font-size="14.5" font-family="'DejaVu Sans Mono', 'Liberation Mono', monospace" fill="#333" textLength="23" lengthAdjust="spacingAndGlyphs">377</text>
<rect x="286" y="899" width="15" height="9" fill="#000" />
<text x="24.00" y="930.00" font-size="9" font-weight="bold">30</text>
<text x="197.00" y="930.20" font-size="9.5" font-weight="bold" textLength="338" lengthAdjust="spacingAndGlyphs">Collmer Semiconductor, Inc. • Phone: (972) 233-1589 • FAX: (972) 233-0481</text>
<text x="7.00" y="982.00" font-size="12.6" font-family="'Liberation Mono', monospace" fill="#555" textLength="461" lengthAdjust="spacingAndGlyphs">Powered by ICminer.com Electronic-Library Service CopyRight 2003</text>
</svg>
</body></html>
